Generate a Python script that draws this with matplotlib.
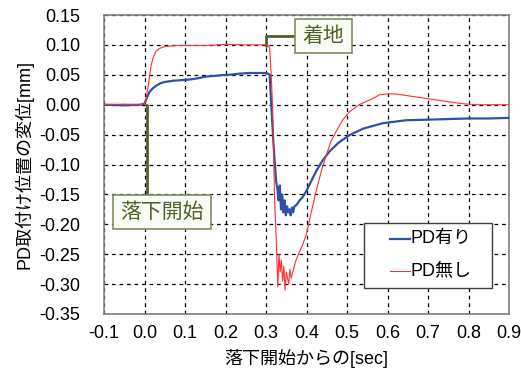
import matplotlib
matplotlib.use("Agg")
import matplotlib.pyplot as plt
from matplotlib.patches import Rectangle
from matplotlib.lines import Line2D

plt.rcParams['font.family'] = ['Liberation Sans', 'Noto Sans CJK JP', 'DejaVu Sans']

# __ PD有り (blue) __
blue_t = [-0.1, -0.05, -0.01, 0.0, 0.005, 0.012, 0.02, 0.029, 0.04, 0.05, 0.07, 0.09, 0.11, 0.13,
          0.152, 0.17, 0.193, 0.21, 0.235, 0.26, 0.28, 0.296, 0.305, 0.309, 0.313, 0.318, 0.322,
          0.325, 0.328, 0.331, 0.334, 0.337, 0.340, 0.343, 0.346, 0.349, 0.352, 0.355, 0.358,
          0.361, 0.364, 0.367, 0.370, 0.375, 0.383, 0.39, 0.40, 0.41, 0.424, 0.44, 0.457, 0.48,
          0.506, 0.54, 0.588, 0.646, 0.70, 0.75, 0.80, 0.85, 0.9]
blue_y = [0.0, -0.001, 0.0, 0.002, 0.01, 0.021, 0.027, 0.032, 0.036, 0.038, 0.040, 0.041, 0.042,
          0.044, 0.047, 0.048, 0.0495, 0.050, 0.052, 0.053, 0.053, 0.053, 0.052, 0.05, 0.0, -0.06,
          -0.10, -0.128, -0.14, -0.16, -0.135, -0.175, -0.15, -0.18, -0.16, -0.185, -0.17, -0.18,
          -0.175, -0.185, -0.172, -0.18, -0.17, -0.168, -0.16, -0.155, -0.144, -0.13, -0.111,
          -0.093, -0.078, -0.063, -0.051, -0.040, -0.031, -0.026, -0.025, -0.024, -0.023, -0.023,
          -0.022]

# __ PD無し (red) __
red_t = [-0.1, -0.05, -0.01, 0.0, 0.004, 0.01, 0.016, 0.022, 0.029, 0.04, 0.05, 0.062, 0.08, 0.1,
         0.15, 0.18, 0.2, 0.25, 0.28, 0.3, 0.305, 0.309, 0.313, 0.317, 0.321, 0.325, 0.329, 0.332,
         0.335, 0.338, 0.341, 0.344, 0.347, 0.350, 0.353, 0.356, 0.359, 0.362, 0.366, 0.37, 0.374,
         0.38, 0.39, 0.40, 0.41, 0.424, 0.437, 0.449, 0.46, 0.473, 0.49, 0.506, 0.53, 0.563, 0.58,
         0.60, 0.62, 0.65, 0.70, 0.75, 0.786, 0.82, 0.86, 0.9]
red_y = [0, 0.001, 0, 0.002, 0.01, 0.035, 0.065, 0.08, 0.09, 0.095, 0.097, 0.098, 0.099, 0.099,
         0.099, 0.1, 0.101, 0.1, 0.1, 0.1, 0.099, 0.095, 0.05, -0.018, -0.155, -0.22, -0.304, -0.25,
         -0.28, -0.26, -0.295, -0.27, -0.31, -0.28, -0.29, -0.30, -0.275, -0.29, -0.28, -0.27, -0.26,
         -0.25, -0.235, -0.216, -0.185, -0.144, -0.11, -0.084, -0.062, -0.045, -0.025, -0.012, 0.0,
         0.01, 0.0165, 0.018, 0.018, 0.015, 0.01, 0.005, 0.0016, 0.0, 0.0, 0.0]

x_ticks = [-0.1, 0.0, 0.1, 0.2, 0.3, 0.4, 0.5, 0.6, 0.7, 0.8, 0.9]
y_ticks = [0.15, 0.10, 0.05, 0.00, -0.05, -0.10, -0.15, -0.20, -0.25, -0.30, -0.35]

olive = '#4f6228'
W, H = 521, 374

fig = plt.figure(figsize=(5.21, 3.74), dpi=100)
ax = fig.add_axes([104 / W, 1 - 314 / H, 405 / W, 299 / H])

blue_line, = ax.plot(blue_t, blue_y, color='#2f4fa8', lw=1.6, zorder=3)
red_line, = ax.plot(red_t, red_y, color='#ff3030', lw=0.8, zorder=4)

ax.set_xlim(-0.1, 0.9)
ax.set_ylim(-0.35, 0.15)
ax.set_xticks(x_ticks)
ax.set_yticks(y_ticks)
ax.set_xticklabels([f"{v:.1f}" for v in x_ticks], fontsize=13)
ax.set_yticklabels([f"{v:.2f}" for v in y_ticks], fontsize=13)
ax.tick_params(length=0, pad=17, axis='y')
ax.tick_params(length=0, pad=8, axis='x')
ax.grid(True, color='black', ls=(0, (3, 3)), lw=0.9)
for s in ax.spines.values():
    s.set_color('#808080')
    s.set_linewidth(1.2)

ax.set_xlabel('落下開始からの[sec]', fontsize=13, labelpad=5)
ax.set_ylabel('PD取付け位置の変位[mm]', fontsize=13, labelpad=4)

# __ callouts __
box = dict(boxstyle='square,pad=0.35', fc='#fbfbf5', ec='#7f8f60', lw=1.2)
ax.annotate('着地', xy=(0.3, 0.098), xytext=(0.442, 0.115), fontsize=15, color=olive,
            ha='center', va='center', bbox=box,
            arrowprops=dict(arrowstyle='-', color=olive, lw=2,
                            connectionstyle='angle,angleA=0,angleB=90,rad=0', shrinkA=0, shrinkB=0))
ax.annotate('落下開始', xy=(0.003, 0.0), xytext=(0.043, -0.18), fontsize=15, color=olive,
            ha='center', va='center', bbox=box,
            arrowprops=dict(arrowstyle='-', color=olive, lw=2,
                            connectionstyle='angle,angleA=90,angleB=0,rad=0', shrinkA=0, shrinkB=0,
                            relpos=(0.32, 1.0)))

# __ legend drawn by hand (wide frame like the original) __
fig.patches.append(Rectangle((364 / W, 1 - 288 / H), 128 / W, 65 / H, transform=fig.transFigure,
                             fc='white', ec='#404040', lw=1.0, zorder=5))
for line, label, ypx in [(blue_line, 'PD有り', 239), (red_line, 'PD無し', 271)]:
    fig.lines.append(Line2D([390 / W, 410 / W], [1 - ypx / H] * 2, transform=fig.transFigure,
                            color=line.get_color(), lw=line.get_linewidth(), zorder=6))
    fig.text(411 / W, 1 - ypx / H, label, fontsize=13, va='center', ha='left', zorder=6)

fig.savefig('out.png', dpi=100)
